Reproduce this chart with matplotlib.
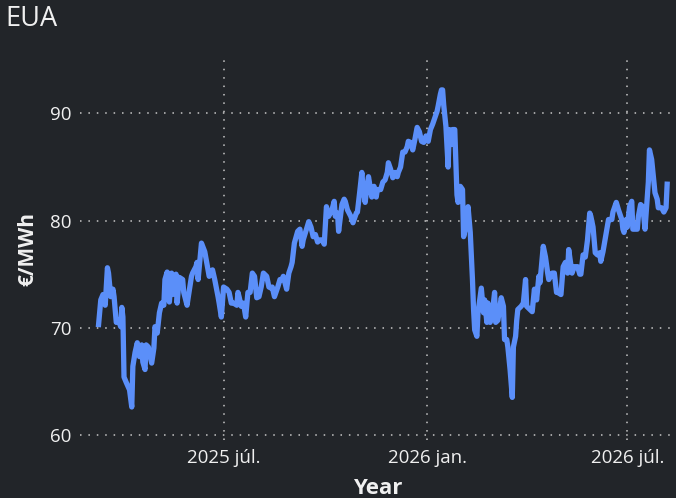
import pandas as pd
import matplotlib
matplotlib.use('Agg')
import matplotlib.pyplot as plt

# days counted from 2025-07-01
day_offsets = [
    -113, -111, -109, -107, -105, -104, -102, -100, -99, -97, -95, -93, -92, -91, -90, -88,
    -85, -83, -82, -80, -78, -76, -74, -73, -71, -70, -68, -65, -63, -62, -60, -58,
    -56, -54, -53, -51, -49, -47, -46, -43, -42, -40, -37, -36, -33, -32, -29, -28,
    -25, -24, -23, -20, -17, -14, -13, -10, -8, -5, -4, -2, 0, 3, 5, 7,
    9, 12, 13, 14, 16, 18, 20, 22, 24, 26, 28, 30, 32, 34, 36, 39,
    41, 43, 44, 46, 49, 51, 53, 54, 57, 59, 61, 62, 64, 67, 69, 71,
    72, 75, 77, 79, 81, 83, 85, 87, 89, 91, 93, 95, 98, 100, 101, 103,
    104, 107, 109, 110, 112, 115, 117, 120, 121, 123, 125, 126, 128, 129, 131, 134,
    136, 138, 139, 142, 144, 146, 148, 149, 151, 153, 155, 157, 158, 160, 162, 164,
    166, 167, 169, 171, 173, 175, 177, 179, 181, 183, 185, 187, 189, 191, 193, 194,
    196, 197, 198, 199, 201, 203, 204, 206, 207, 209, 211, 212, 214, 216, 217, 220,
    221, 223, 225, 226, 227, 229, 230, 233, 235, 236, 238, 239, 241, 243, 245, 246,
    248, 249, 251, 253, 254, 256, 257, 259, 261, 262, 264, 265, 266, 269, 271, 273,
    274, 277, 279, 281, 283, 285, 286, 289, 291, 293, 294, 297, 299, 301, 302, 305,
    307, 309, 311, 312, 315, 317, 320, 322, 323, 325, 327, 329, 331, 332, 334, 336,
    338, 340, 341, 343, 346, 348, 351, 352, 355, 357, 360, 361, 362, 364, 365, 367,
    369, 370, 372, 374, 375, 377, 379, 381, 383, 384, 385, 387, 389, 390, 392, 393,
    396, 398, 400, 401,
]

# EUA price, EUR/MWh
prices = [
    70.3, 72.6, 73.1, 72.1, 75.6, 75.1, 72.9, 73.6, 72.9, 70.5, 70.7, 70.1, 71.9, 71.0, 65.4, 64.9,
    64.2, 62.6, 66.4, 67.7, 68.6, 67.3, 68.4, 66.8, 66.1, 68.4, 68.2, 66.7, 68.1, 70.1, 69.5, 71.4,
    72.3, 72.1, 74.5, 75.2, 72.4, 75.1, 73.1, 75.0, 72.3, 74.7, 74.5, 73.3, 72.1, 72.8, 74.8, 75.1,
    75.7, 76.1, 74.5, 77.9, 77.1, 75.4, 74.8, 75.4, 74.5, 72.9, 72.3, 71.0, 73.8, 73.6, 73.3, 72.3,
    72.3, 72.1, 73.3, 72.9, 72.0, 72.3, 71.0, 73.3, 73.3, 75.1, 74.8, 72.8, 72.9, 73.8, 75.1, 74.8,
    73.8, 73.7, 73.8, 72.9, 73.8, 74.5, 74.5, 74.8, 73.6, 75.1, 75.7, 76.1, 77.9, 79.0, 79.2, 77.6,
    78.2, 79.2, 79.9, 79.4, 78.5, 78.7, 78.0, 78.2, 78.2, 77.8, 81.3, 80.4, 81.0, 81.8, 80.4, 80.7,
    79.0, 81.5, 82.0, 81.8, 81.0, 80.4, 79.8, 80.7, 80.8, 82.6, 84.5, 83.2, 81.7, 82.6, 84.1, 82.2,
    83.2, 82.2, 82.9, 82.9, 83.6, 83.8, 84.5, 85.4, 84.8, 84.0, 84.5, 84.1, 84.5, 85.0, 86.4, 86.4,
    86.9, 87.4, 87.3, 86.6, 87.6, 88.7, 88.3, 87.4, 87.3, 87.9, 87.4, 88.5, 89.0, 89.6, 90.2, 90.7,
    91.8, 92.2, 92.2, 90.8, 88.8, 85.0, 88.5, 87.1, 88.5, 88.5, 82.4, 81.7, 83.2, 82.9, 78.5, 79.9,
    81.3, 78.9, 74.5, 71.7, 69.8, 69.2, 71.4, 73.7, 71.4, 72.6, 70.5, 72.3, 70.5, 71.4, 73.3, 70.5,
    70.7, 71.4, 72.8, 72.0, 68.9, 68.9, 68.2, 66.1, 63.5, 68.2, 69.2, 70.7, 71.7, 72.0, 72.3, 74.5,
    72.0, 71.7, 71.5, 73.6, 72.6, 74.8, 74.2, 77.6, 76.6, 75.1, 74.5, 75.1, 75.1, 73.3, 73.3, 73.1,
    75.7, 76.1, 75.1, 77.3, 75.1, 75.7, 75.7, 75.0, 75.0, 76.8, 76.6, 78.2, 80.7, 80.4, 79.4, 77.0,
    76.8, 77.0, 76.2, 77.1, 78.9, 80.1, 80.1, 80.8, 81.7, 81.0, 80.1, 79.2, 78.9, 80.1, 79.4, 81.3,
    81.8, 79.2, 79.2, 79.2, 80.4, 81.5, 81.3, 79.2, 82.2, 83.6, 86.6, 85.7, 83.6, 82.6, 82.0, 81.2,
    81.2, 80.8, 81.2, 83.4,
]

tick_dates = ['2025-07-01', '2026-01-01', '2026-07-01']
tick_labels = ['2025 júl.', '2026 jan.', '2026 júl.']
y_ticks = [60, 70, 80, 90]

bg = '#222529'
fg = '#f0f0f0'
plt.rcParams['font.family'] = ['Open Sans', 'DejaVu Sans']

base = pd.Timestamp('2025-07-01')
dates = base + pd.to_timedelta(day_offsets, unit='D')

fig = plt.figure(figsize=(6.76, 4.98), dpi=100, facecolor=bg)
ax = fig.add_axes([0.118, 0.116, 0.882, 0.768], facecolor=bg)

ax.plot(dates, prices, color='#5b8ff9', linewidth=3.8, solid_joinstyle='round', zorder=3)

ax.set_xlim(base + pd.Timedelta(days=-130), base + pd.Timedelta(days=409))
ax.set_ylim(59.5, 95.2)
ax.set_xticks(pd.to_datetime(tick_dates))
ax.set_xticklabels(tick_labels)
ax.set_yticks(y_ticks)

ax.grid(True, color='#c8c8c8', linestyle=(0, (1, 4.5)), linewidth=1.1)
for s in ax.spines.values():
    s.set_visible(False)
ax.tick_params(length=0, colors=fg, labelsize=13.5, pad=6)

ax.set_xlabel('Year', color=fg, fontsize=16, fontweight='bold', labelpad=8)
ax.set_ylabel('€/MWh', color=fg, fontsize=15, fontweight='bold', labelpad=8)
fig.text(0.008, 0.961, 'EUA', color=fg, fontsize=19.5, ha='left', va='center')

fig.savefig('out.png', dpi=100, facecolor=bg)
